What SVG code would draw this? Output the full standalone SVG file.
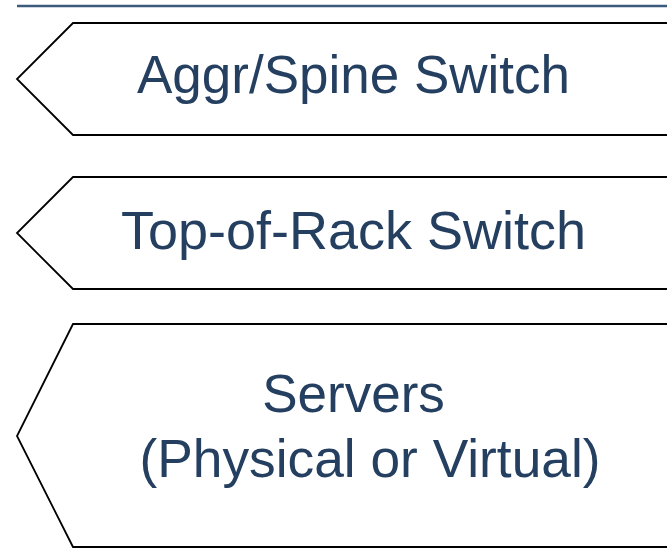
<svg xmlns="http://www.w3.org/2000/svg" width="667" height="548" viewBox="0 0 667 548">
  <style>
    .tier { fill: #ffffff; stroke: #000000; stroke-width: 1.8; stroke-linejoin: miter; }
    .label { font-family: "Liberation Sans", Arial, sans-serif; font-size: 53px; fill: #243f60; text-anchor: middle; }
    .rule { stroke: #3b5a7c; stroke-width: 2.5; }
  </style>
  <rect width="667" height="548" fill="#ffffff"/>
  <line class="rule" x1="17" y1="6" x2="667" y2="6"/>
  <g id="aggr-spine">
    <polygon class="tier" points="73,23 700,23 700,135 73,135 17,79"/>
    <text class="label" x="353.5" y="93">Aggr/Spine Switch</text>
  </g>
  <g id="top-of-rack">
    <polygon class="tier" points="73,177 700,177 700,289 73,289 17,233"/>
    <text class="label" x="353.5" y="249" style="font-size:54px">Top-of-Rack Switch</text>
  </g>
  <g id="servers">
    <polygon class="tier" points="73,324 700,324 700,547 73,547 17,436"/>
    <text class="label" x="353.5" y="412">Servers</text>
    <text class="label" x="370" y="477" style="font-size:53.3px">(Physical or Virtual)</text>
  </g>
  <g id="connectors"/>
</svg>
